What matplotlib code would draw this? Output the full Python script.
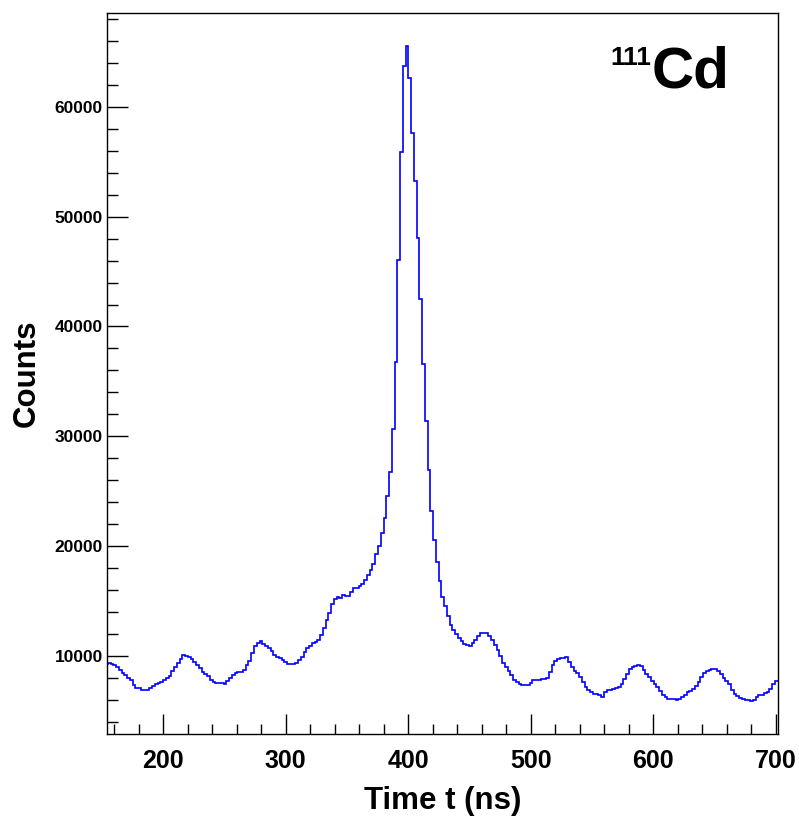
import numpy as np
import matplotlib
matplotlib.use("Agg")
import matplotlib.pyplot as plt
from matplotlib.ticker import MultipleLocator

# ----------- data -----------
bin_start = 152.6   # ns, left edge of the first bin
bin_width = 2.25    # ns

counts = [
    9270, 9360, 9270, 9130, 9000, 8725, 8410, 8270, 8000, 7810,
    7360, 7090, 7090, 6900, 6840, 6900, 7060, 7270, 7450, 7540,
    7630, 7770, 8000, 8180, 8630, 9000, 9360, 9680, 10030, 10000,
    9860, 9680, 9450, 9180, 8910, 8540, 8360, 8180, 7770, 7630,
    7510, 7490, 7540, 7450, 7720, 8000, 8270, 8450, 8480, 8480,
    8725, 9180, 9545, 10270, 10910, 11160, 11370, 11090, 10910, 10680,
    10455, 10090, 9910, 9820, 9640, 9390, 9270, 9240, 9270, 9360,
    9590, 9910, 10360, 10680, 10910, 11180, 11270, 11410, 11910, 12550,
    13280, 13920, 14740, 15190, 15370, 15250, 15560, 15460, 15420, 15830,
    16170, 16190, 16330, 16560, 16880, 17380, 17830, 18350, 19290, 19960,
    21230, 22540, 24570, 26760, 30650, 36800, 46100, 55910, 63770, 65570,
    62610, 57640, 53280, 48090, 42500, 36620, 31390, 26890, 23210, 20510,
    18520, 16830, 15390, 14550, 13580, 12820, 12370, 12000, 11640, 11370,
    11090, 10960, 10850, 11160, 11460, 11760, 12070, 12120, 12090, 11760,
    11460, 11000, 10550, 9940, 9340, 9000, 8630, 8270, 7810, 7630,
    7450, 7360, 7300, 7360, 7510, 7810, 7770, 7750, 7880, 7900,
    7970, 8540, 9180, 9480, 9700, 9770, 9790, 9880, 9450, 9000,
    8570, 8420, 8090, 7630, 7180, 6900, 6680, 6540, 6490, 6400,
    6290, 6720, 6840, 6900, 7000, 7090, 7200, 7450, 7900, 8360,
    8790, 8950, 9090, 9180, 9030, 8680, 8360, 8090, 7720, 7400,
    7130, 6810, 6450, 6220, 6060, 6060, 6040, 5990, 6080, 6270,
    6450, 6680, 6810, 6970, 7220, 7630, 8090, 8420, 8570, 8680,
    8770, 8790, 8570, 8320, 8000, 7720, 7400, 6900, 6490, 6310,
    6180, 6060, 5990, 5930, 5860, 5990, 6290, 6400, 6450, 6590,
    6720, 6970, 7450, 7660, 7660,
]

x_range = (154.1, 701.9)
y_range = (2874, 68556)
x_ticks = [200, 300, 400, 500, 600, 700]
y_ticks = [10000, 20000, 30000, 40000, 50000, 60000]

edges = bin_start + bin_width * np.arange(len(counts) + 1)

# ----------- style -----------
plt.rcParams['font.family'] = ['Liberation Sans', 'DejaVu Sans']
plt.rcParams['font.weight'] = 'bold'

fig = plt.figure(figsize=(7.99, 8.19), dpi=100)
ax = fig.add_axes([107 / 799, 85 / 819, 671 / 799, 721 / 819])

ax.stairs(counts, edges, baseline=None, color='#0000ff', lw=1.2)

ax.set_xlim(*x_range)
ax.set_ylim(*y_range)
ax.set_xticks(x_ticks)
ax.set_yticks(y_ticks)
ax.xaxis.set_minor_locator(MultipleLocator(20))
ax.yaxis.set_minor_locator(MultipleLocator(2000))

for s in ax.spines.values():
    s.set_linewidth(1.0)
    s.set_color('black')

ax.tick_params(which='both', direction='in', top=False, right=False, width=1.0)
ax.tick_params(axis='x', which='major', length=14.4, labelsize=18, pad=11)
ax.tick_params(axis='x', which='minor', length=7.2)
ax.tick_params(axis='y', which='major', length=15, labelsize=12.5, pad=3)
ax.tick_params(axis='y', which='minor', length=8)

ax.set_xlabel('Time t (ns)', fontsize=22.5, fontweight='bold', labelpad=9)
ax.set_ylabel('Counts', fontsize=22.5, fontweight='bold', labelpad=9)

# isotope label
fig.text(651 / 799, 1 - 65 / 819, '111', fontsize=19, fontweight='bold', ha='right', va='baseline')
fig.text(652 / 799, 1 - 88 / 819, 'Cd', fontsize=42, fontweight='bold', ha='left', va='baseline')

fig.savefig('out.png', dpi=100)
